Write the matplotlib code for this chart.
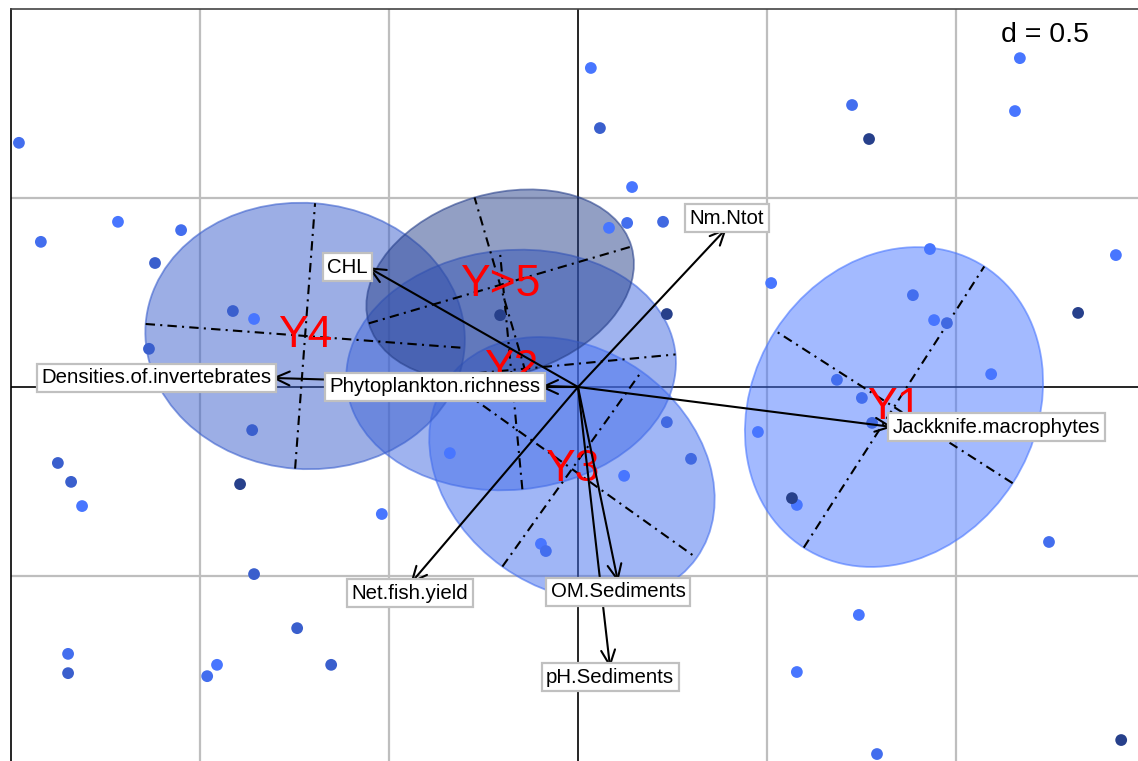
import matplotlib
matplotlib.use('Agg')
import matplotlib.pyplot as plt
from matplotlib.patches import Ellipse
import numpy as np

plt.rcParams['font.family'] = ['Liberation Sans', 'DejaVu Sans']

# class ellipses (centre, semi axes, angle of major axis)
classes = ['Y1', 'Y2', 'Y3', 'Y4', 'Y>5']
class_cols = ['#4876FF', '#4169E1', '#436EEE', '#3A5FCD', '#27408B']
cx = [0.836, -0.177, -0.016, -0.722, -0.206]
cy = [-0.053, 0.045, -0.217, 0.135, 0.270]
semi_a = [0.442, 0.437, 0.405, 0.423, 0.362]
semi_b = [0.373, 0.317, 0.317, 0.352, 0.241]
angle = [57.3, 5.4, -35.5, -4.3, 16.3]

# sites, by class
y1_x = [0.034, 0.143, 0.082, 0.511, 1.169, 1.156, 0.931, 0.942, 1.423, 1.093, 0.476,
        0.579, -0.098, 0.743, 0.579, 0.122, -0.339, -0.519, -0.857, -1.312, -0.955, -1.217]
y1_y = [0.844, 0.529, 0.421, 0.275, 0.870, 0.730, 0.365, 0.177, 0.349, 0.034, -0.119,
        -0.312, -0.415, -0.603, -0.754, -0.235, -0.175, -0.336, 0.180, -0.315, -0.735, 0.437]
y2_x = [0.225, 0.976, 0.778, 0.235, 0.299]
y2_y = [0.437, 0.169, -0.095, -0.093, -0.190]
y3_x = [0.130, 0.725, 0.886, 0.685, 0.751, 1.246, -0.085, 0.791, -1.479, -1.421, -1.050,
        -0.981, -1.349]
y3_y = [0.434, 0.746, 0.243, 0.019, -0.029, -0.410, -0.434, -0.971, 0.646, 0.384, 0.415,
        -0.765, -0.706]
y4_x = [0.058, -1.119, -0.913, -1.135, -0.862, -1.376, -1.341, -0.857, -0.743, -0.653, -1.349]
y4_y = [0.685, 0.328, 0.201, 0.101, -0.114, -0.201, -0.251, -0.495, -0.638, -0.735, -0.757]
y5_x = [0.235, 0.770, 1.323, 0.566, 1.437, -0.206, -0.894]
y5_y = [0.193, 0.656, 0.196, -0.294, -0.934, 0.190, -0.257]

# variable arrows
var_names = ['CHL', 'Nm.Ntot', 'Densities.of.invertebrates', 'Phytoplankton.richness',
             'Jackknife.macrophytes', 'Net.fish.yield', 'OM.Sediments', 'pH.Sediments']
var_x = [-0.556, 0.394, -0.810, -0.100, 0.833, -0.444, 0.106, 0.085]
var_y = [0.317, 0.421, 0.024, 0.0, -0.106, -0.521, -0.516, -0.743]

W, H = 1138, 761
fig = plt.figure(figsize=(W / 100, H / 100), dpi=100)
ax = fig.add_axes([11 / W, 0, (W - 11) / W, (H - 9) / H])
ax.set_xlim(-1.5, -1.5 + (W - 11) / 378)
ax.set_ylim(1.0 - (H - 9) / 378, 1.0)
ax.set_xticks([])
ax.set_yticks([])
for s in ['right', 'bottom']:
    ax.spines[s].set_visible(False)
ax.spines['left'].set_color('black')
ax.spines['top'].set_color('#444444')
ax.spines['left'].set_linewidth(1.2)
ax.spines['top'].set_linewidth(1.2)

for g in [-1.0, -0.5, 0.5, 1.0]:
    ax.axvline(g, color='#bebebe', lw=1.6, zorder=0)
for g in [-0.5, 0.5]:
    ax.axhline(g, color='#bebebe', lw=1.6, zorder=0)
ax.axvline(0, color='black', lw=1.2, zorder=1)
ax.axhline(0, color='black', lw=1.2, zorder=1)

dash = (0, (4.5, 2.5, 1.0, 2.5))
for i in range(len(classes)):
    e = Ellipse((cx[i], cy[i]), 2 * semi_a[i], 2 * semi_b[i], angle=angle[i],
                facecolor=class_cols[i], alpha=0.5, edgecolor='none', zorder=2)
    ax.add_patch(e)
    e2 = Ellipse((cx[i], cy[i]), 2 * semi_a[i], 2 * semi_b[i], angle=angle[i],
                 facecolor='none', edgecolor=class_cols[i], alpha=0.6, lw=1.3, zorder=2)
    ax.add_patch(e2)
    t = np.deg2rad(angle[i])
    ux, uy = np.cos(t), np.sin(t)
    ax.plot([cx[i] - semi_a[i] * ux, cx[i] + semi_a[i] * ux],
            [cy[i] - semi_a[i] * uy, cy[i] + semi_a[i] * uy],
            color='black', lw=1.5, linestyle=dash, zorder=3)
    ax.plot([cx[i] + semi_b[i] * uy, cx[i] - semi_b[i] * uy],
            [cy[i] - semi_b[i] * ux, cy[i] + semi_b[i] * ux],
            color='black', lw=1.5, linestyle=dash, zorder=3)

pts = [(y1_x, y1_y), (y2_x, y2_y), (y3_x, y3_y), (y4_x, y4_y), (y5_x, y5_y)]
for i, (px, py) in enumerate(pts):
    ax.scatter(px, py, s=72, color=class_cols[i], edgecolors='none', zorder=4)

for i in range(len(classes)):
    ax.text(cx[i], cy[i], classes[i], color='red', fontsize=32, ha='center', va='center',
            zorder=5)

for i in range(len(var_names)):
    ax.annotate('', xy=(var_x[i], var_y[i]), xytext=(0, 0),
                arrowprops=dict(arrowstyle='->,head_length=0.55,head_width=0.25',
                                lw=1.5, color='black', shrinkA=0, shrinkB=0,
                                mutation_scale=20), zorder=6)
    dx, dy = var_x[i], var_y[i]
    if abs(dx) > abs(dy):
        ha = 'left' if dx > 0 else 'right'
        va = 'center'
    else:
        ha = 'center'
        va = 'bottom' if dy > 0 else 'top'
    ax.text(dx, dy, var_names[i], fontsize=14.7, ha=ha, va=va, zorder=7,
            bbox=dict(boxstyle='square,pad=0.22', fc='white', ec='#c0c0c0', lw=1.6))

ax.text((1089 - 11) / (W - 11), 0.965, 'd = 0.5', transform=ax.transAxes, fontsize=20.5,
        ha='right', va='center', zorder=8)

fig.savefig('out.png', dpi=100)
